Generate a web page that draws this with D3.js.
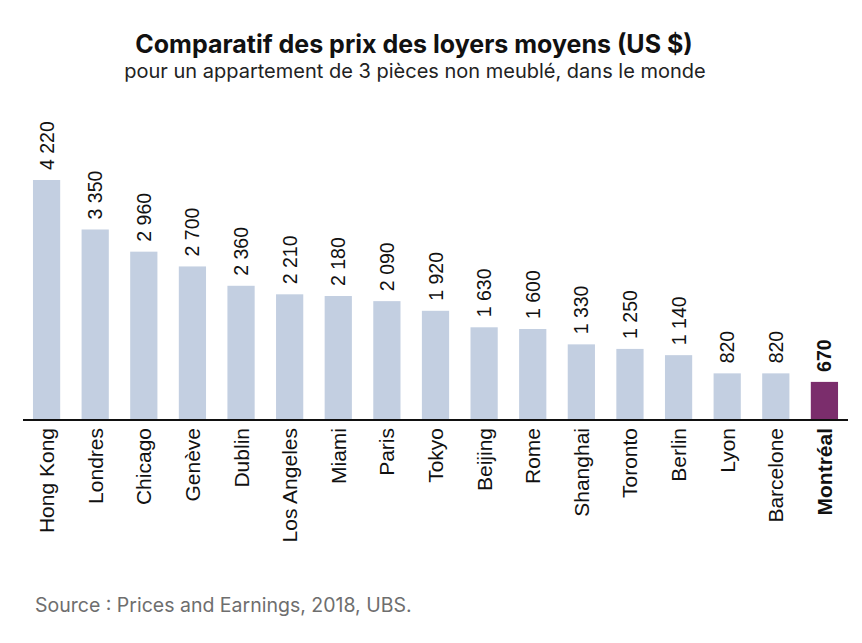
<!DOCTYPE html>
<html><head><meta charset="utf-8">
<script src="https://cdn.jsdelivr.net/npm/d3@7"></script>
<style>body{margin:0;background:#fff}</style>
</head><body>
<svg id="c" width="862" height="643"></svg>
<script>
const categories = ["Hong Kong","Londres","Chicago","Genève","Dublin","Los Angeles","Miami","Paris","Tokyo","Beijing","Rome","Shanghai","Toronto","Berlin","Lyon","Barcelone","Montréal"];
const values = [4220,3350,2960,2700,2360,2210,2180,2090,1920,1630,1600,1330,1250,1140,820,820,670];
const highlight = ["Montréal"];

const svg = d3.select("#c");
const labelFont = "'Liberation Sans', Arial, sans-serif";
const titleFont = "Inter, 'Noto Sans', sans-serif";

const x = d3.scaleBand().domain(categories).range([23, 848]).paddingInner(0.44).paddingOuter(0.205);
const y = d3.scaleLinear().domain([0, 4220]).range([420, 180]);
const fmt = d3.formatLocale({decimal: ",", thousands: " ", grouping: [3], currency: ["", " $"]}).format(",d");

svg.append("text").attr("x", 414).attr("y", 53).attr("text-anchor", "middle")
  .style("font-family", titleFont).style("font-weight", 700).style("font-size", "25px").attr("fill", "#111")
  .text("Comparatif des prix des loyers moyens (US $)");
svg.append("text").attr("x", 415).attr("y", 78).attr("text-anchor", "middle")
  .style("font-family", titleFont).style("font-size", "20px").attr("fill", "#222")
  .text("pour un appartement de 3 pièces non meublé, dans le monde");

const data = categories.map((c, i) => ({c, v: values[i], hi: highlight.includes(c)}));

svg.append("g").selectAll("rect").data(data).join("rect")
  .attr("x", d => x(d.c)).attr("width", x.bandwidth())
  .attr("y", d => y(d.v)).attr("height", d => y(0) - y(d.v))
  .attr("fill", d => d.hi ? "#7b2d6c" : "#c3cfe1");

svg.append("g").selectAll("text").data(data).join("text")
  .attr("transform", d => `translate(${x(d.c) + x.bandwidth()/2 + 7},${y(d.v) - 10}) rotate(-90)`)
  .style("font-family", labelFont).style("font-size", "19.5px")
  .style("font-weight", d => d.hi ? 700 : 400).attr("fill", "#111")
  .text(d => fmt(d.v));

const xAxis = d3.axisBottom(x).tickSize(0).tickPadding(0);
const gx = svg.append("g").attr("transform", `translate(0,${y(0)})`).call(xAxis);
gx.select(".domain").attr("d", "M23,0H848").attr("stroke", "#111").attr("stroke-width", 2);
gx.selectAll(".tick text")
  .attr("transform", "translate(7.5,8) rotate(-90)").attr("x", 0).attr("y", 0).attr("dy", 0)
  .attr("text-anchor", "end")
  .style("font-family", labelFont).style("font-size", "21px").attr("fill", "#111")
  .style("font-weight", d => highlight.includes(d) ? 700 : 400);

svg.append("text").attr("x", 35).attr("y", 612)
  .style("font-family", titleFont).style("font-size", "19.5px").attr("fill", "#6e6e6e")
  .text("Source : Prices and Earnings, 2018, UBS.");
</script>
</body></html>
